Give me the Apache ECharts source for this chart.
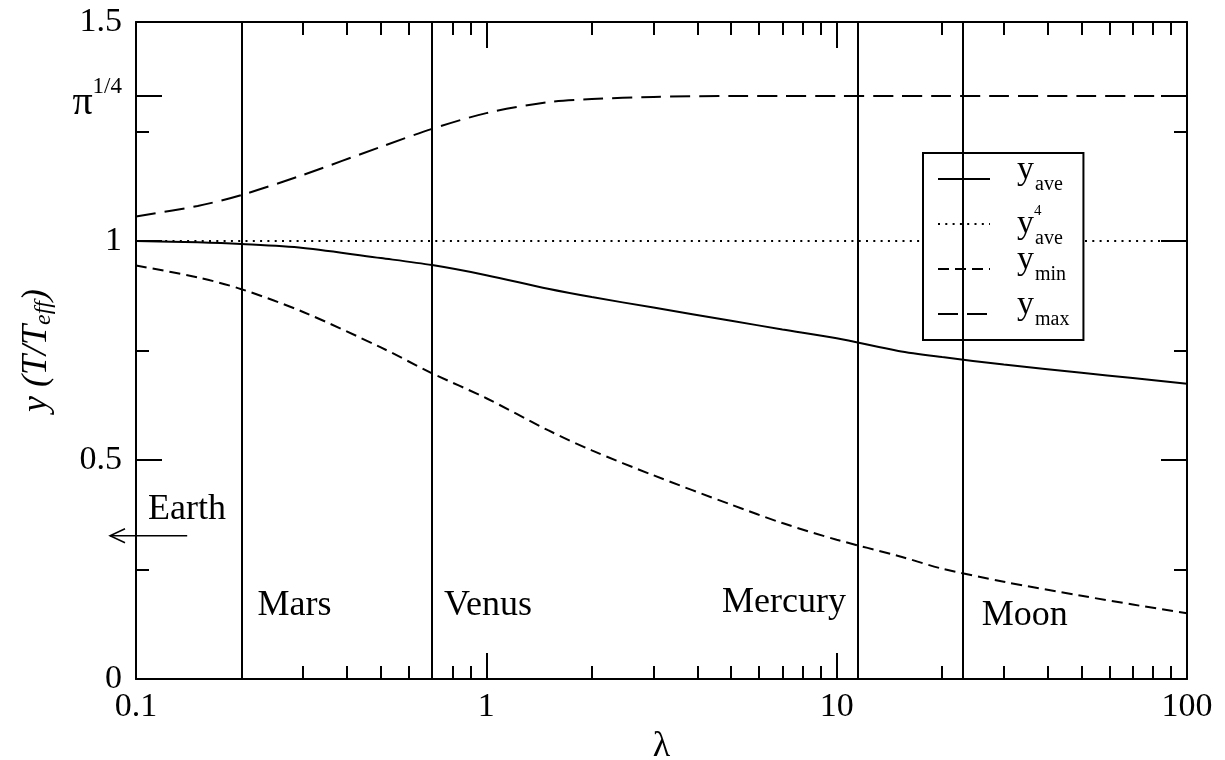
<!DOCTYPE html>
<html>
<head>
<meta charset="utf-8">
<script src="https://cdn.jsdelivr.net/npm/echarts@6/dist/echarts.min.js"></script>
<style>
  html, body { margin: 0; padding: 0; background: #fff; }
  #chart { width: 1225px; height: 760px; }
</style>
</head>
<body>
<div id="chart"></div>
<script>
// data
const lambda = [0.1, 0.15, 0.2, 0.3, 0.5, 0.7, 1, 1.5, 2, 3, 5, 7, 10, 15, 20, 30, 50, 70, 100];
const yAve = [1.000, 0.997, 0.993, 0.984, 0.961, 0.945, 0.922, 0.891, 0.872, 0.848, 0.818, 0.798, 0.778, 0.749, 0.735, 0.718, 0.699, 0.687, 0.674];
const yMin = [0.944, 0.917, 0.890, 0.838, 0.757, 0.698, 0.641, 0.568, 0.522, 0.465, 0.398, 0.356, 0.318, 0.281, 0.252, 0.222, 0.190, 0.170, 0.150];
const yMax = [1.056, 1.080, 1.105, 1.151, 1.215, 1.256, 1.292, 1.317, 1.324, 1.329, 1.331, 1.3313, 1.3313, 1.3313, 1.3313, 1.3313, 1.3313, 1.3313, 1.3313];
const lambdaEnds = [0.1, 100];
const yAve4 = [1, 1];

const PI4 = Math.pow(Math.PI, 0.25);
const yTickValues = [0, 0.5, 1, PI4, 1.5];

const planetNames = ['Mars', 'Venus', 'Mercury', 'Moon'];
const planetLambda = [0.2, 0.7, 11.5, 22.9];
// Earth is off the left edge: arrow tip at lambda 0.0843, tail at 0.14, at y 0.327
const earthArrow = [0.0843, 0.14, 0.327];

const FONT = 'Liberation Serif';
const GRID = { left: 136, right: 38, top: 22, bottom: 81 };

const chart = echarts.init(document.getElementById('chart'));

function pairs(xs, ys) {
  return xs.map((x, i) => [x, ys[i]]);
}

// common look of the frame axes
function xAxisBase(pos, showLabel) {
  return {
    type: 'log',
    logBase: 10,
    min: 0.1,
    max: 100,
    position: pos,
    axisLine: { show: true, onZero: false, lineStyle: { color: '#000', width: 2 } },
    axisTick: { show: true, inside: true, length: 26, lineStyle: { color: '#000', width: 2 } },
    minorTick: { show: true, splitNumber: 9, length: 13, lineStyle: { color: '#000', width: 2 } },
    splitLine: { show: false },
    minorSplitLine: { show: false },
    axisLabel: {
      show: showLabel,
      color: '#000',
      fontFamily: FONT,
      fontSize: 34,
      margin: 11,
      formatter: function (v) { return String(v); }
    }
  };
}

function yAxisBase(pos, showLabel) {
  return {
    type: 'value',
    min: 0,
    max: 1.5,
    interval: 0.5,
    position: pos,
    axisLine: { show: true, onZero: false, lineStyle: { color: '#000', width: 2 } },
    axisTick: { show: true, inside: true, length: 26, customValues: yTickValues, lineStyle: { color: '#000', width: 2 } },
    minorTick: { show: true, splitNumber: 2, length: 13, lineStyle: { color: '#000', width: 2 } },
    splitLine: { show: false },
    axisLabel: {
      show: showLabel,
      customValues: yTickValues,
      color: '#000',
      fontFamily: FONT,
      fontSize: 34,
      margin: 14,
      formatter: function (v) {
        if (Math.abs(v - PI4) < 1e-6) return '{pi|π}{sup|1/4}';
        return String(v);
      },
      rich: {
        pi: { fontFamily: FONT, fontSize: 40, color: '#000', padding: [16, 0, 0, 0] },
        sup: { fontFamily: FONT, fontSize: 23, color: '#000', padding: [0, 0, 18, 0] }
      }
    }
  };
}

const legendText = {
  y_ave: '{y|y}{sub|ave}',
  y4_ave: '{y2|y}{s4|4}{sub2|ave}',
  y_min: '{y|y}{sub|min}',
  y_max: '{y|y}{sub|max}'
};

function buildOption(gridExtra) {
  return {
    animation: false,
    backgroundColor: '#fff',
    grid: Object.assign({ containLabel: false }, GRID, gridExtra),
    legend: {
      data: ['y_ave', 'y4_ave', 'y_min', 'y_max'],
      orient: 'vertical',
      left: 923,
      top: 153,
      padding: [0, 14, 0, 14],
      itemWidth: 52,
      itemHeight: 14,
      itemGap: -7,
      backgroundColor: '#fff',
      borderColor: '#000',
      borderWidth: 2,
      borderRadius: 0,
      selectedMode: false,
      itemStyle: { opacity: 0 },
      formatter: function (name) { return legendText[name]; },
      textStyle: {
        color: '#000',
        fontFamily: FONT,
        fontSize: 34,
        lineHeight: 52,
        rich: {
          y: { fontFamily: FONT, fontSize: 34, lineHeight: 52, color: '#000', padding: [0, 0, 18, 22] },
          sub: { fontFamily: FONT, fontSize: 20, lineHeight: 52, color: '#000', padding: [12, 0, 0, 1] },
          y2: { fontFamily: FONT, fontSize: 34, lineHeight: 52, color: '#000', padding: [0, 0, 0, 22] },
          s4: { fontFamily: FONT, fontSize: 15, lineHeight: 52, color: '#000', width: 0, padding: [0, 0, 26, 0] },
          sub2: { fontFamily: FONT, fontSize: 20, lineHeight: 52, color: '#000', padding: [30, 0, 0, 1] }
        }
      }
    },
    xAxis: [
      Object.assign(xAxisBase('bottom', true), {
        name: 'λ',
        nameLocation: 'middle',
        nameGap: 8,
        nameTextStyle: { color: '#000', fontFamily: FONT, fontSize: 36 }
      }),
      xAxisBase('top', false)
    ],
    yAxis: [
      Object.assign(yAxisBase('left', true), {
        name: '{i|y (T/T}{s|eff}{i|)}',
        nameLocation: 'middle',
        nameGap: 80,
        nameRotate: 90,
        nameTextStyle: {
          color: '#000',
          fontFamily: FONT,
          rich: {
            i: { fontFamily: FONT, fontStyle: 'italic', fontSize: 36, color: '#000' },
            s: { fontFamily: FONT, fontStyle: 'italic', fontSize: 24, color: '#000', padding: [14, 0, 0, 0] }
          }
        }
      }),
      yAxisBase('right', false)
    ],
    series: [
      {
        name: 'y_ave',
        type: 'line',
        data: pairs(lambda, yAve),
        symbol: 'none',
        smooth: 0.3,
        itemStyle: { color: '#000' },
        lineStyle: { color: '#000', width: 2, type: 'solid' },
        z: 3
      },
      {
        name: 'y4_ave',
        type: 'line',
        data: pairs(lambdaEnds, yAve4),
        symbol: 'none',
        itemStyle: { color: '#000' },
        lineStyle: { color: '#000', width: 2, type: [2, 5.3] },
        z: 3
      },
      {
        name: 'y_min',
        type: 'line',
        data: pairs(lambda, yMin),
        symbol: 'none',
        smooth: 0.3,
        itemStyle: { color: '#000' },
        lineStyle: { color: '#000', width: 2, type: [11, 6] },
        z: 3
      },
      {
        name: 'y_max',
        type: 'line',
        data: pairs(lambda, yMax),
        symbol: 'none',
        smooth: 0.3,
        itemStyle: { color: '#000' },
        lineStyle: { color: '#000', width: 2, type: [20, 9] },
        z: 3
      },
      {
        // planet positions: vertical lines + names
        name: 'planets',
        type: 'scatter',
        symbolSize: 0,
        silent: true,
        itemStyle: { color: '#000', opacity: 1 },
        data: planetLambda.map((x, i) => ({
          value: [x, [0.167, 0.167, 0.1735, 0.144][i]],
          name: planetNames[i],
          label: {
            position: i === 2 ? 'left' : 'right',
            distance: [16, 12, 12, 19][i]
          }
        })).concat([{
          value: [0.1, 0.386],
          name: 'Earth',
          label: { position: 'right', distance: 12 }
        }]),
        label: {
          show: true,
          formatter: '{b}',
          color: '#000',
          fontFamily: FONT,
          fontSize: 36
        },
        markLine: {
          silent: true,
          symbol: ['none', 'none'],
          label: { show: false },
          lineStyle: { color: '#000', width: 2, type: 'solid' },
          data: planetLambda.map(x => ({ xAxis: x }))
        },
        z: 2
      }
    ]
  };
}

const finder = { xAxisIndex: 0, yAxisIndex: 0 };

// how far the plotted frame ends up from the wanted grid box
function frameError() {
  const a = chart.convertToPixel(finder, [0.1, 0]);
  const b = chart.convertToPixel(finder, [100, 1.5]);
  return Math.abs(a[0] - GRID.left) + Math.abs(a[1] - (760 - GRID.bottom)) +
    Math.abs(b[0] - (1225 - GRID.right)) + Math.abs(b[1] - GRID.top);
}

// v6 may shrink the grid to keep the labels in the canvas; pick the grid settings that keep the box as given
const gridTries = [
  { outerBounds: { left: 0, top: 0, right: 0, bottom: -60 } },
  { outerBoundsContain: 'axisLabel' },
  {}
];
let best = gridTries[gridTries.length - 1];
let bestErr = Infinity;
for (const g of gridTries) {
  chart.setOption(buildOption(g), true);
  const err = frameError();
  if (err < bestErr) { bestErr = err; best = g; }
  if (err < 2) break;
}
chart.setOption(buildOption(best), true);

// arrow pointing to Earth, which sits off the left of the plot
const tip = chart.convertToPixel(finder, [earthArrow[0], earthArrow[2]]);
const tail = chart.convertToPixel(finder, [earthArrow[1], earthArrow[2]]);
chart.setOption({
  graphic: [
    {
      type: 'line',
      silent: true,
      shape: { x1: tip[0], y1: tip[1], x2: tail[0], y2: tail[1] },
      style: { stroke: '#000', lineWidth: 1.5 }
    },
    {
      type: 'polyline',
      silent: true,
      shape: { points: [[tip[0] + 15, tip[1] - 7], [tip[0], tip[1]], [tip[0] + 15, tip[1] + 7]] },
      style: { stroke: '#000', lineWidth: 1.5, fill: null }
    }
  ]
});
</script>
</body>
</html>
